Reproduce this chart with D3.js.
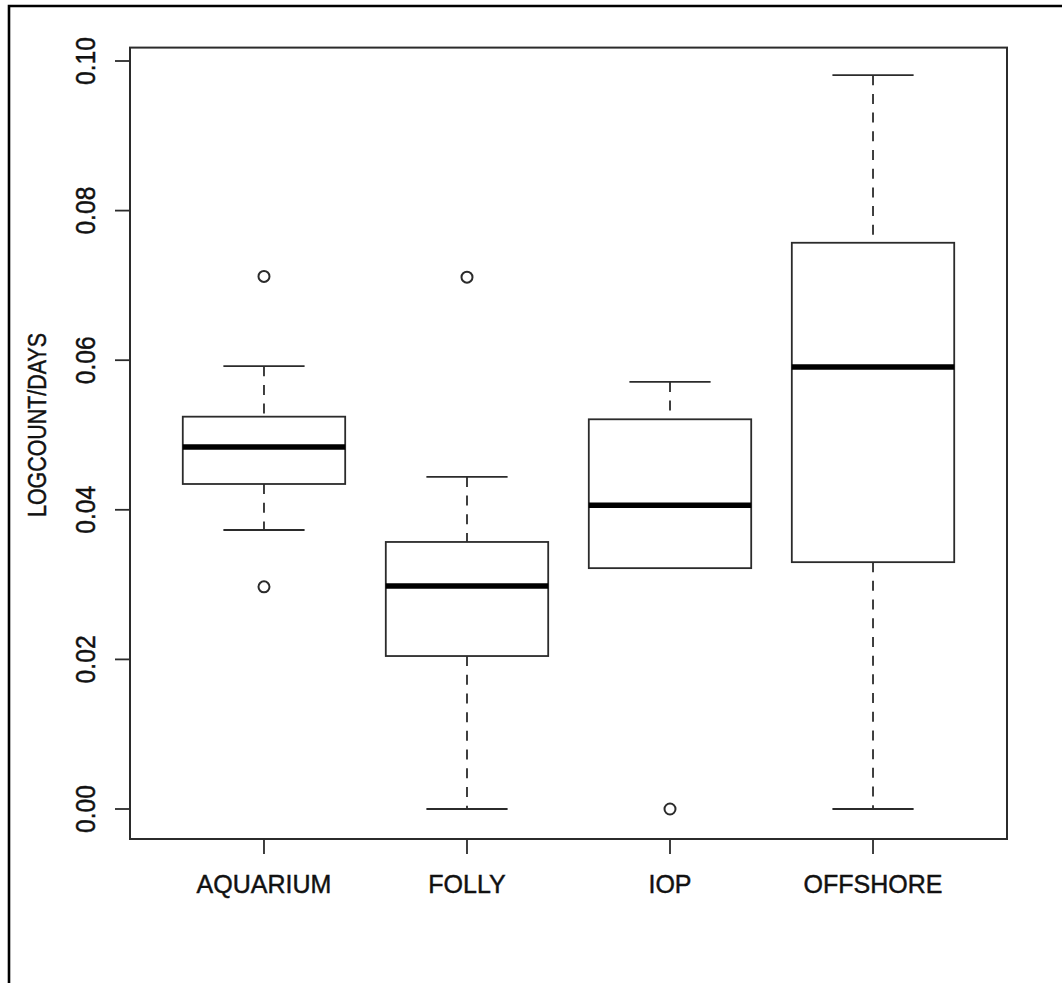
<!DOCTYPE html>
<html><head><meta charset="utf-8">
<script src="https://cdn.jsdelivr.net/npm/d3@7"></script>
<style>body{margin:0;background:#fff}svg{display:block}text{font-family:"Liberation Sans",Arial,sans-serif}</style>
</head><body><div id="c"></div>
<script>
const categories = ["AQUARIUM","FOLLY","IOP","OFFSHORE"];
const whiskerLow  = [0.0373, 0.0000, 0.0322, 0.0000];
const boxLow      = [0.04345, 0.02045, 0.0322, 0.0330];
const medians     = [0.0484, 0.0298, 0.0406, 0.0591];
const boxHigh     = [0.05245, 0.0357, 0.0521, 0.0757];
const whiskerHigh = [0.0592, 0.0444, 0.0571, 0.0981];
const outliers    = [[0.0712, 0.0297], [0.0711], [0.0000], []];
const yTicks      = [0.00, 0.02, 0.04, 0.06, 0.08, 0.10];
const yTickLabels = ["0.00","0.02","0.04","0.06","0.08","0.10"];
const yLabel = "LOGCOUNT/DAYS";

const W = 1062, H = 983;
const svg = d3.select("#c").append("svg").attr("width", W).attr("height", H);
const plot = {left:130, right:1007, top:47.6, bottom:839};

svg.append("path").attr("d", `M9,${H} L9,6 L${W},6`).attr("fill","none").attr("stroke","#000").attr("stroke-width",2.6);

const x = d3.scaleLinear().domain([0.34, 4.66]).range([plot.left, plot.right]);
const y = d3.scaleLinear().domain([0, 0.10]).range([809, 61]);

const stroke = "#2b2b2b";
const boxHalf = 0.4, capHalf = 0.2;
const lw = 1.8;

const data = categories.map((c,i)=>({c, i:i+1, wl:whiskerLow[i], q1:boxLow[i], med:medians[i], q3:boxHigh[i], wh:whiskerHigh[i], out:outliers[i]}));

const g = svg.append("g");
data.forEach(d=>{
  const cx = x(d.i);
  g.append("line").attr("x1",cx).attr("x2",cx).attr("y1",y(d.wh)).attr("y2",y(d.q3))
    .attr("stroke",stroke).attr("stroke-width",lw).attr("stroke-dasharray","10,8.7");
  g.append("line").attr("x1",cx).attr("x2",cx).attr("y1",y(d.q1)).attr("y2",y(d.wl))
    .attr("stroke",stroke).attr("stroke-width",lw).attr("stroke-dasharray","10,8.7");
  [d.wh, d.wl].forEach(v=>{
    g.append("line").attr("x1",x(d.i-capHalf)).attr("x2",x(d.i+capHalf)).attr("y1",y(v)).attr("y2",y(v))
      .attr("stroke",stroke).attr("stroke-width",lw);
  });
  g.append("rect").attr("x",x(d.i-boxHalf)).attr("width",x(d.i+boxHalf)-x(d.i-boxHalf))
    .attr("y",y(d.q3)).attr("height",y(d.q1)-y(d.q3))
    .attr("fill","#fff").attr("stroke",stroke).attr("stroke-width",lw);
  g.append("line").attr("x1",x(d.i-boxHalf)).attr("x2",x(d.i+boxHalf)).attr("y1",y(d.med)).attr("y2",y(d.med))
    .attr("stroke","#000").attr("stroke-width",5.5);
  d.out.forEach(v=>{
    g.append("circle").attr("cx",cx).attr("cy",y(v)).attr("r",5.5)
      .attr("fill","none").attr("stroke",stroke).attr("stroke-width",2);
  });
});

svg.append("rect").attr("x",plot.left).attr("y",plot.top).attr("width",plot.right-plot.left).attr("height",plot.bottom-plot.top)
  .attr("fill","none").attr("stroke",stroke).attr("stroke-width",2);

const txt = sel => sel.attr("fill","#111").attr("stroke","#111").attr("stroke-width",0.45);

yTicks.forEach((t,k)=>{
  svg.append("line").attr("x1",plot.left-15).attr("x2",plot.left).attr("y1",y(t)).attr("y2",y(t))
    .attr("stroke",stroke).attr("stroke-width",lw);
  svg.append("text").attr("transform",`translate(95,${y(t)}) rotate(-90)`)
    .attr("text-anchor","middle").attr("font-size",27.5)
    .attr("textLength",48).attr("lengthAdjust","spacingAndGlyphs")
    .call(txt).text(yTickLabels[k]);
});
data.forEach(d=>{
  svg.append("line").attr("x1",x(d.i)).attr("x2",x(d.i)).attr("y1",plot.bottom).attr("y2",plot.bottom+15)
    .attr("stroke",stroke).attr("stroke-width",lw);
  svg.append("text").attr("x",x(d.i)).attr("y",893).attr("text-anchor","middle")
    .attr("font-size",25).call(txt).text(d.c);
});
svg.append("text").attr("transform",`translate(46,425) rotate(-90)`)
  .attr("text-anchor","middle").attr("font-size",25)
  .attr("textLength",184).attr("lengthAdjust","spacingAndGlyphs")
  .call(txt).text(yLabel);
</script></body></html>
